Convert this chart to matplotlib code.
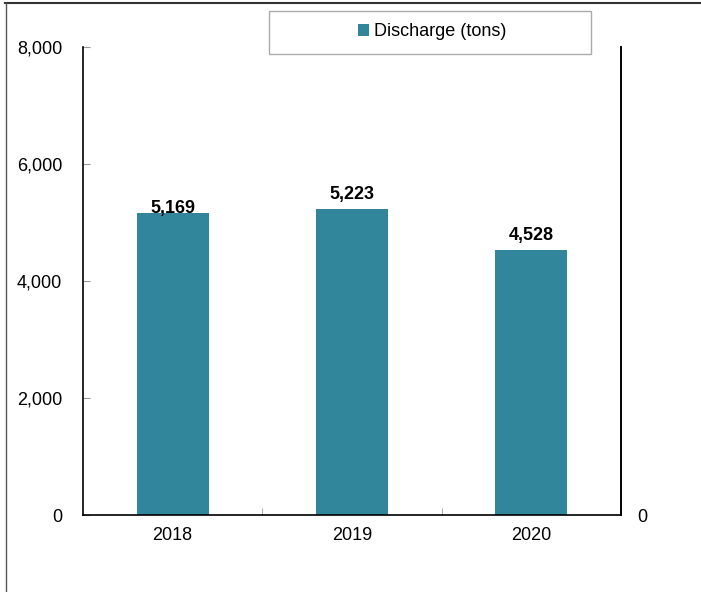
import matplotlib.pyplot as plt
import numpy as np
from matplotlib.lines import Line2D
from matplotlib.patches import Rectangle

plt.rcParams['font.family'] = ['Liberation Sans', 'DejaVu Sans']

# data
years = ['2018', '2019', '2020']
discharge = [5169, 5223, 4528]
series_name = 'Discharge (tons)'
yticks = [0, 2000, 4000, 6000, 8000]

bar_color = '#31869B'
label_offsets = [-4, 6, 6]  # px above bar top, as in the original
fs = 13

fig = plt.figure(figsize=(7.01, 5.92), dpi=100)
ax = fig.add_axes([83 / 701, 77 / 592, 538 / 701, 468 / 592])

x = np.arange(len(years))
bars = ax.bar(x, discharge, width=0.4, color=bar_color, label=series_name)

ax.set_xlim(-0.5, len(years) - 0.5)
ax.set_ylim(0, 8000)
ax.set_yticks(yticks)
ax.set_yticklabels(['{:,}'.format(v) for v in yticks])
ax.set_xticks(x)
ax.set_xticklabels(years)
ax.set_xticks(np.arange(len(years) - 1) + 0.5, minor=True)

ax.tick_params(axis='y', direction='in', length=5, color='#999999', labelsize=fs, pad=15)
ax.tick_params(axis='x', which='major', length=0, labelsize=fs, pad=9)
ax.tick_params(axis='x', which='minor', direction='in', length=5, color='#999999')

ax.spines['top'].set_visible(False)
for s in ['left', 'right', 'bottom']:
    ax.spines[s].set_linewidth(1.2)
    ax.spines[s].set_color('black')

# right axis, only shows 0
ax2 = ax.twinx()
ax2.set_ylim(0, 1)
ax2.set_yticks([0])
ax2.set_yticklabels(['0'])
ax2.tick_params(axis='y', length=0, labelsize=fs, pad=12)
ax2.spines['top'].set_visible(False)
ax2.spines['left'].set_visible(False)
ax2.spines['bottom'].set_visible(False)
ax2.spines['right'].set_linewidth(1.2)

for b, v, off in zip(bars, discharge, label_offsets):
    ax.annotate('{:,}'.format(v), (b.get_x() + b.get_width() / 2, v),
                xytext=(0, off), textcoords='offset pixels',
                ha='center', va='bottom', fontsize=fs, fontweight='bold')

leg = ax.legend(loc='center', bbox_to_anchor=(432 / 701, 560 / 592),
                bbox_transform=fig.transFigure, frameon=False,
                fontsize=fs, handlelength=0.6, handleheight=0.6, handletextpad=0.3)
fig.add_artist(Rectangle((268.5 / 701, 1 - 53.5 / 592), 322 / 701, 43 / 592,
                         transform=fig.transFigure, fill=False,
                         edgecolor='#AAAAAA', lw=1))

# outer frame lines (top and left)
fig.add_artist(Line2D([5 / 701, 1], [1 - 2.5 / 592, 1 - 2.5 / 592], color='#333333', lw=1.5, transform=fig.transFigure))
fig.add_artist(Line2D([5.5 / 701, 5.5 / 701], [0, 1 - 2.5 / 592], color='#555555', lw=1, transform=fig.transFigure))

fig.savefig('out.png', dpi=100)
